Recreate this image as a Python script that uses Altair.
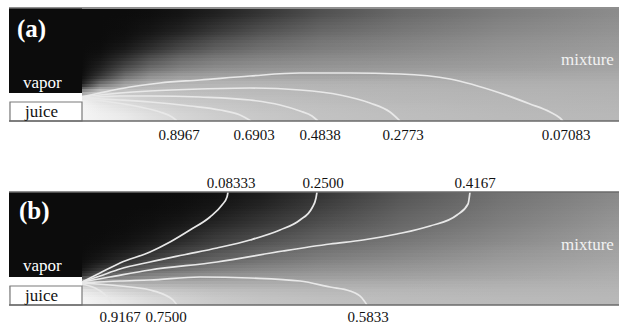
import altair as alt
import pandas as pd

# ---------------- data ----------------
# x positions (chart px units) where the grey level of each shading row was read
STOP_X = [9, 82, 100, 125, 150, 180, 215, 260, 320, 400, 500, 619]

# panel (a) shading rows: top, bottom and grey levels (0-255) at STOP_X
A_ROW_TOP = [9, 18, 27, 36, 45, 54, 63, 72, 80, 88, 96, 104, 112]
A_ROW_BOT = [18, 27, 36, 45, 54, 63, 72, 80, 88, 96, 104, 112, 121]
A_GRAY = [
    [12, 12, 12, 12, 14, 20, 32, 52, 80, 104, 124, 140],
    [12, 12, 12, 13, 17, 26, 44, 66, 92, 112, 130, 144],
    [12, 12, 12, 14, 22, 36, 58, 82, 104, 120, 136, 148],
    [12, 12, 12, 17, 32, 54, 78, 98, 116, 128, 142, 152],
    [12, 12, 14, 28, 50, 76, 98, 114, 126, 136, 148, 156],
    [12, 12, 20, 46, 78, 104, 120, 130, 138, 144, 152, 160],
    [12, 12, 34, 76, 108, 128, 140, 146, 150, 154, 158, 164],
    [12, 14, 52, 110, 142, 156, 162, 164, 164, 166, 168, 170],
    [12, 30, 112, 162, 178, 182, 182, 182, 180, 178, 176, 176],
    [12, 150, 202, 198, 194, 190, 188, 186, 184, 182, 180, 178],
    [240, 240, 226, 214, 206, 200, 196, 192, 188, 184, 182, 180],
    [245, 245, 236, 226, 216, 208, 202, 196, 192, 188, 184, 182],
    [245, 245, 240, 234, 224, 214, 206, 200, 194, 190, 186, 184],
]

# panel (b) shading rows
B_ROW_TOP = [192, 201, 210, 219, 228, 237, 246, 255, 264, 272, 280, 288, 296]
B_ROW_BOT = [201, 210, 219, 228, 237, 246, 255, 264, 272, 280, 288, 296, 305]
B_GRAY = [
    [12, 12, 12, 12, 12, 13, 18, 30, 54, 86, 114, 138],
    [12, 12, 12, 12, 12, 15, 22, 36, 62, 92, 118, 142],
    [12, 12, 12, 12, 14, 18, 28, 46, 70, 98, 122, 146],
    [12, 12, 12, 13, 16, 24, 38, 56, 80, 104, 126, 150],
    [12, 12, 12, 14, 20, 32, 50, 68, 90, 110, 132, 154],
    [12, 12, 13, 18, 28, 44, 64, 82, 102, 120, 138, 158],
    [12, 12, 16, 26, 42, 62, 80, 98, 114, 128, 146, 162],
    [12, 14, 24, 44, 66, 84, 100, 114, 128, 140, 154, 166],
    [12, 20, 48, 78, 96, 110, 122, 132, 142, 150, 160, 170],
    [14, 50, 98, 122, 134, 142, 148, 152, 156, 160, 166, 174],
    [200, 200, 190, 182, 178, 176, 174, 174, 174, 174, 176, 178],
    [235, 235, 226, 214, 206, 200, 194, 190, 186, 184, 182, 182],
    [245, 245, 238, 230, 220, 210, 202, 196, 192, 188, 186, 184],
]

# contour lines, panel (a)
A_C_NAMES = ["0.07083", "0.2773", "0.4838", "0.6903", "0.8967"]
A_C_X = [
    [82, 100, 130, 160, 200, 250, 300, 350, 400, 450, 500, 530, 550, 560, 563],
    [82, 120, 150, 200, 250, 300, 340, 370, 390, 400],
    [82, 120, 150, 200, 250, 280, 300, 312, 318],
    [82, 120, 150, 190, 220, 240, 251],
    [82, 110, 140, 160, 172, 177],
]
A_C_Y = [
    [97, 93, 87, 83, 80, 76, 73, 73, 74, 79, 93, 104, 112, 118, 121],
    [97, 93, 91, 89, 88, 90, 95, 103, 112, 121],
    [98, 96, 96, 97, 100, 105, 111, 116, 121],
    [98, 100, 102, 106, 110, 115, 121],
    [99, 102, 107, 112, 117, 121],
]

# contour lines, panel (b)
B_C_NAMES = ["0.08333", "0.2500", "0.4167", "0.5833", "0.7500", "0.9167"]
B_C_X = [
    [82, 100, 120, 150, 170, 190, 210, 222, 227, 228],
    [82, 100, 120, 150, 183, 217, 250, 280, 300, 312, 316, 317],
    [82, 110, 150, 217, 283, 330, 363, 397, 430, 457, 468, 470],
    [82, 120, 150, 200, 250, 300, 330, 350, 362, 367],
    [82, 120, 150, 165, 173, 177],
    [82, 95, 103, 109, 112],
]
B_C_Y = [
    [282, 273, 263, 252, 242, 230, 217, 205, 197, 192],
    [282, 276, 269, 262, 255, 248, 240, 230, 220, 208, 198, 192],
    [282, 277, 270, 262, 251, 244, 240, 234, 226, 215, 204, 192],
    [283, 281, 280, 277, 278, 281, 287, 291, 298, 305],
    [283, 286, 290, 295, 300, 305],
    [284, 288, 293, 299, 305],
]

# contour value labels
LABEL_TEXT = ["0.8967", "0.6903", "0.4838", "0.2773", "0.07083",
              "0.08333", "0.2500", "0.4167",
              "0.9167", "0.7500", "0.5833"]
LABEL_X = [179, 254, 320, 403, 566, 231, 323, 475, 120, 166, 368]
LABEL_Y = [140, 140, 140, 140, 140, 188, 188, 188, 322, 322, 322]

# panel frames
PANEL_TOP = [8, 192]
PANEL_BOT = [121, 305]
VAPOR_BOT = [93, 277]
JUICE_TOP = [102, 286]
NOZZLE_X = 82
LEFT_X = 9
RIGHT_X = 619

# in-panel words
WORD_TEXT = ["(a)", "(b)"]
WORD_X = [17, 19]
WORD_Y = [37, 219]
VAPOR_X = [23, 23]
VAPOR_Y = [88, 271]
JUICE_X = [25, 25]
JUICE_Y = [117, 301]
MIX_X = [561, 561]
MIX_Y = [65, 250]

# ---------------- chart ----------------
FONT = "Liberation Serif, Times New Roman, Times, DejaVu Serif, serif"
XS = alt.Scale(domain=[0, 619], nice=False, zero=False)
YS = alt.Scale(domain=[0, 326], nice=False, zero=False, reverse=True)


def gx(f):
    return alt.X(f, type="quantitative", scale=XS, axis=None)


def gy(f):
    return alt.Y(f, type="quantitative", scale=YS, axis=None)


def hexg(v):
    return "#{0:02x}{0:02x}{0:02x}".format(int(v))


span = STOP_X[-1] - STOP_X[0]


def strip(top, bot, gray, opacity=1.0):
    stops = [alt.GradientStop(color=hexg(v), offset=(sx - STOP_X[0]) / span)
             for sx, v in zip(STOP_X, gray)]
    df = pd.DataFrame({"x0": [STOP_X[0]], "x1": [STOP_X[-1]], "y0": [top], "y1": [bot]})
    return alt.Chart(df).mark_rect(
        color=alt.Gradient(gradient="linear", stops=stops, x1=0, x2=1, y1=0, y2=0),
        opacity=opacity,
    ).encode(x=gx("x0"), x2="x1", y=gy("y0"), y2="y1")


layers = []
K = 3  # sub-strips used to blend one row into the next when drawing
for tops, bots, grays in [(A_ROW_TOP, A_ROW_BOT, A_GRAY), (B_ROW_TOP, B_ROW_BOT, B_GRAY)]:
    n = len(tops)
    mids = [int(round((t + b) / 2)) for t, b in zip(tops, bots)]
    layers.append(strip(tops[0], mids[0], grays[0]))
    layers.append(strip(mids[-1], bots[-1], grays[-1]))
    for i in range(n - 1):
        a, b = mids[i], mids[i + 1]
        layers.append(strip(a, b, grays[i]))
        edges = [int(round(a + (b - a) * j / K)) for j in range(K + 1)]
        for j in range(K):
            if edges[j + 1] > edges[j]:
                layers.append(strip(edges[j], edges[j + 1], grays[i + 1], (j + 0.5) / K))

# vapor, wall, juice boxes
vap = pd.DataFrame({"x0": [LEFT_X] * 2, "x1": [NOZZLE_X] * 2, "y0": PANEL_TOP, "y1": VAPOR_BOT})
layers.append(alt.Chart(vap).mark_rect(color="#0c0c0c").encode(
    x=gx("x0"), x2="x1", y=gy("y0"), y2="y1"))
wall = pd.DataFrame({"x0": [LEFT_X] * 2, "x1": [NOZZLE_X] * 2, "y0": VAPOR_BOT, "y1": JUICE_TOP})
layers.append(alt.Chart(wall).mark_rect(color="#ffffff").encode(
    x=gx("x0"), x2="x1", y=gy("y0"), y2="y1"))
juice = pd.DataFrame({"x0": [LEFT_X + 1] * 2, "x1": [NOZZLE_X] * 2, "y0": JUICE_TOP, "y1": PANEL_BOT})
layers.append(alt.Chart(juice).mark_rect(fill="#ffffff", stroke="#7a7a7a", strokeWidth=1.2).encode(
    x=gx("x0"), x2="x1", y=gy("y0"), y2="y1"))

# contours
rows = []
for names, xs_, ys_ in [(A_C_NAMES, A_C_X, A_C_Y), (B_C_NAMES, B_C_X, B_C_Y)]:
    for nm, cx, cy in zip(names, xs_, ys_):
        for i, (a, b) in enumerate(zip(cx, cy)):
            rows.append({"c": nm, "i": i, "x": a, "y": b})
cdf = pd.DataFrame(rows)
layers.append(
    alt.Chart(cdf).mark_line(stroke="#e8e8e8", strokeWidth=1.7, interpolate="monotone").encode(
        x=gx("x"), y=gy("y"), detail="c:N", order="i:Q")
)

# frame lines
frames = pd.DataFrame({"x0": [LEFT_X] * 4, "x1": [RIGHT_X] * 4, "y": PANEL_TOP + PANEL_BOT})
layers.append(alt.Chart(frames).mark_rule(color="#6a6a6a", strokeWidth=1.5).encode(
    x=gx("x0"), x2="x1", y=gy("y")))

# labels
ldf = pd.DataFrame({"t": LABEL_TEXT, "x": LABEL_X, "y": LABEL_Y})
layers.append(alt.Chart(ldf).mark_text(font=FONT, fontSize=15, color="#111111",
                                       align="center", baseline="alphabetic").encode(
    x=gx("x"), y=gy("y"), text="t:N"))

wdf = pd.DataFrame({"t": WORD_TEXT, "x": WORD_X, "y": WORD_Y})
layers.append(alt.Chart(wdf).mark_text(font=FONT, fontSize=25, fontWeight="bold", color="#ffffff",
                                       align="left", baseline="alphabetic").encode(
    x=gx("x"), y=gy("y"), text="t:N"))

vdf = pd.DataFrame({"t": ["vapor", "vapor"], "x": VAPOR_X, "y": VAPOR_Y})
layers.append(alt.Chart(vdf).mark_text(font=FONT, fontSize=17, color="#ffffff",
                                       align="left", baseline="alphabetic").encode(
    x=gx("x"), y=gy("y"), text="t:N"))

jdf = pd.DataFrame({"t": ["juice", "juice"], "x": JUICE_X, "y": JUICE_Y})
layers.append(alt.Chart(jdf).mark_text(font=FONT, fontSize=17, color="#111111",
                                       align="left", baseline="alphabetic").encode(
    x=gx("x"), y=gy("y"), text="t:N"))

mdf = pd.DataFrame({"t": ["mixture", "mixture"], "x": MIX_X, "y": MIX_Y})
layers.append(alt.Chart(mdf).mark_text(font=FONT, fontSize=17, color="#f2f2f2",
                                       align="left", baseline="alphabetic").encode(
    x=gx("x"), y=gy("y"), text="t:N"))

chart = alt.layer(*layers).properties(
    width=619, height=326, autosize=alt.AutoSizeParams(type="none"), padding=0,
    background="#ffffff"
).configure_view(stroke=None)

chart.save("out.html", embed_options={"renderer": "svg", "actions": False})
